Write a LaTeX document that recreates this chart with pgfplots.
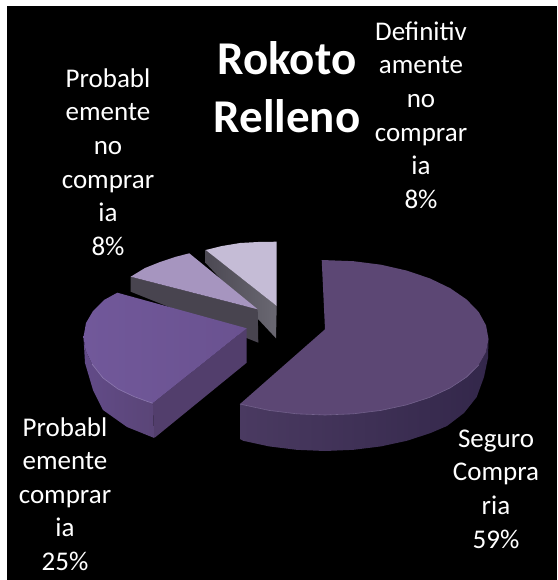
\documentclass[border=0pt]{standalone}
\usepackage{fontspec}
\setmainfont{Carlito}
\usepackage{pgfplots}
\pgfplotsset{compat=1.18}
\definecolor{bigtop}{HTML}{5C4774}
\definecolor{bigwallA}{HTML}{4A3A61}
\definecolor{bigwallB}{HTML}{2C2240}
\definecolor{bigwallC}{HTML}{33274A}
\definecolor{bigrim}{HTML}{75638F}
\definecolor{midtopA}{HTML}{71589A}
\definecolor{midtopB}{HTML}{6A5290}
\definecolor{midwallA}{HTML}{624B88}
\definecolor{midwallB}{HTML}{5A4577}
\definecolor{midcut}{HTML}{523E6C}
\definecolor{midrim}{HTML}{8F7BB2}
\definecolor{nctop}{HTML}{A695BF}
\definecolor{ncside}{HTML}{48444F}
\definecolor{dftop}{HTML}{C5BCD6}
\definecolor{dfsideA}{HTML}{4C4953}
\definecolor{dfsideB}{HTML}{6A6872}
\begin{document}
\begin{tikzpicture}
\begin{axis}[
  at={(0pt,0pt)}, anchor=south west,
  width=557pt, height=580pt, scale only axis,
  xmin=0, xmax=557, ymin=0, ymax=580, y dir=reverse,
  hide axis, clip=true]
% page ground
\addplot[fill=white, draw=none] coordinates {(0,0) (557,0) (557,580) (0,580)} --cycle;
\addplot[fill=black, draw=none] coordinates {(7,6) (557,6) (557,580) (7,580)} --cycle;

% Definitivamente no compraria, 8%
\addplot[draw=none, left color=dfsideA, right color=dfsideB] coordinates {
  (205.7,250) (276.7,306) (276,338.3) (205.7,263)} --cycle;
\addplot[fill=dftop, draw=none] coordinates {
  (205.7,250) (222,246) (240,243) (258,242) (276.7,241.7) (276.7,306)} --cycle;

% Probablemente no compraria, 8%
\addplot[fill=ncside, draw=none] coordinates {
  (130.7,276.7) (257.7,309.3) (258.3,342.7) (130.7,291.7)} --cycle;
\addplot[fill=nctop, draw=none] coordinates {
  (130.7,276.7) (145,268) (160,262) (175,257) (189.3,253.3) (257.7,309.3)} --cycle;

% Probablemente compraria, 25%
\addplot[fill=midcut, draw=none] coordinates {
  (152.7,403.3) (246.7,328.3) (246.7,362.7) (154.3,438)} --cycle;
\addplot[draw=none, left color=midwallA, right color=midwallB] coordinates {
  (83.5,337) (85.5,350) (92,364) (103,378) (118,389) (135,397) (152.7,403.3)
  (154.3,438) (127,427) (103,410) (93,390) (85,363)} --cycle;
\addplot[draw=none, left color=midtopA, right color=midtopB] coordinates {
  (246.7,328.3) (117.3,292.7) (104,300) (93,311) (86,323) (83.5,337)
  (85.5,350) (92,364) (103,378) (118,389) (135,397) (152.7,403.3)} --cycle;
\addplot[draw=midrim, line width=0.6pt] coordinates {
  (92,364) (103,378) (118,389) (135,397) (152.7,403.3)};

% Seguro compraria, 59%
\addplot[draw=none, left color=bigwallA, middle color=bigwallB, right color=bigwallC] coordinates {
  (488.5,339) (486,352.2) (478.7,365) (466.6,377) (450.2,387.9) (430.1,397.2)
  (406.8,404.8) (380.9,410.4) (353.4,413.8) (325,415) (296.6,413.8) (269.1,410.4)
  (243.3,404.8) (240,404)
  (240,439) (243.3,440.8) (269.1,446.4) (296.6,449.8) (325,451) (353.4,449.8)
  (380.9,446.4) (406.8,440.8) (430.1,433.2) (447,426) (464,413) (476.7,397)
  (484,377) (488,358)} --cycle;
\addplot[fill=bigtop, draw=none] coordinates {
  (321.7,260) (353.4,261.2) (380.9,264.7) (406.8,270.6) (430.1,278.5) (450.2,288.2)
  (466.6,299.5) (478.7,312) (486,325.3) (488.5,339) (486,352.2) (478.7,365)
  (466.6,377) (450.2,387.9) (430.1,397.2) (406.8,404.8) (380.9,410.4) (353.4,413.8)
  (325,415) (296.6,413.8) (269.1,410.4) (243.3,404.8) (240,404) (325,329.3)} --cycle;
\addplot[draw=bigrim, line width=0.6pt] coordinates {
  (478.7,365) (466.6,377) (450.2,387.9) (430.1,397.2) (406.8,404.8)
  (380.9,410.4) (353.4,413.8) (325,415) (296.6,413.8) (269.1,410.4) (243.3,404.8) (240,404)};

% Title and category labels
\node[white, align=center, font=\fontsize{47}{58}\selectfont\bfseries] at (axis cs:287,87) {Rokoto\\Relleno};
\node[white, align=center, font=\fontsize{27}{33.6}\selectfont] at (axis cs:421,115)
  {Definitiv\\amente\\no\\comprar\\ia\\8\%};
\node[white, align=center, font=\fontsize{27}{33.6}\selectfont] at (axis cs:108,162)
  {Probabl\\emente\\no\\comprar\\ia\\8\%};
\node[white, align=center, font=\fontsize{27}{33.6}\selectfont] at (axis cs:65,494)
  {Probabl\\emente\\comprar\\ia\\25\%};
\node[white, align=center, font=\fontsize{27}{33.6}\selectfont] at (axis cs:496,489)
  {Seguro\\Compra\\ria\\59\%};
\end{axis}
\end{tikzpicture}
\end{document}
